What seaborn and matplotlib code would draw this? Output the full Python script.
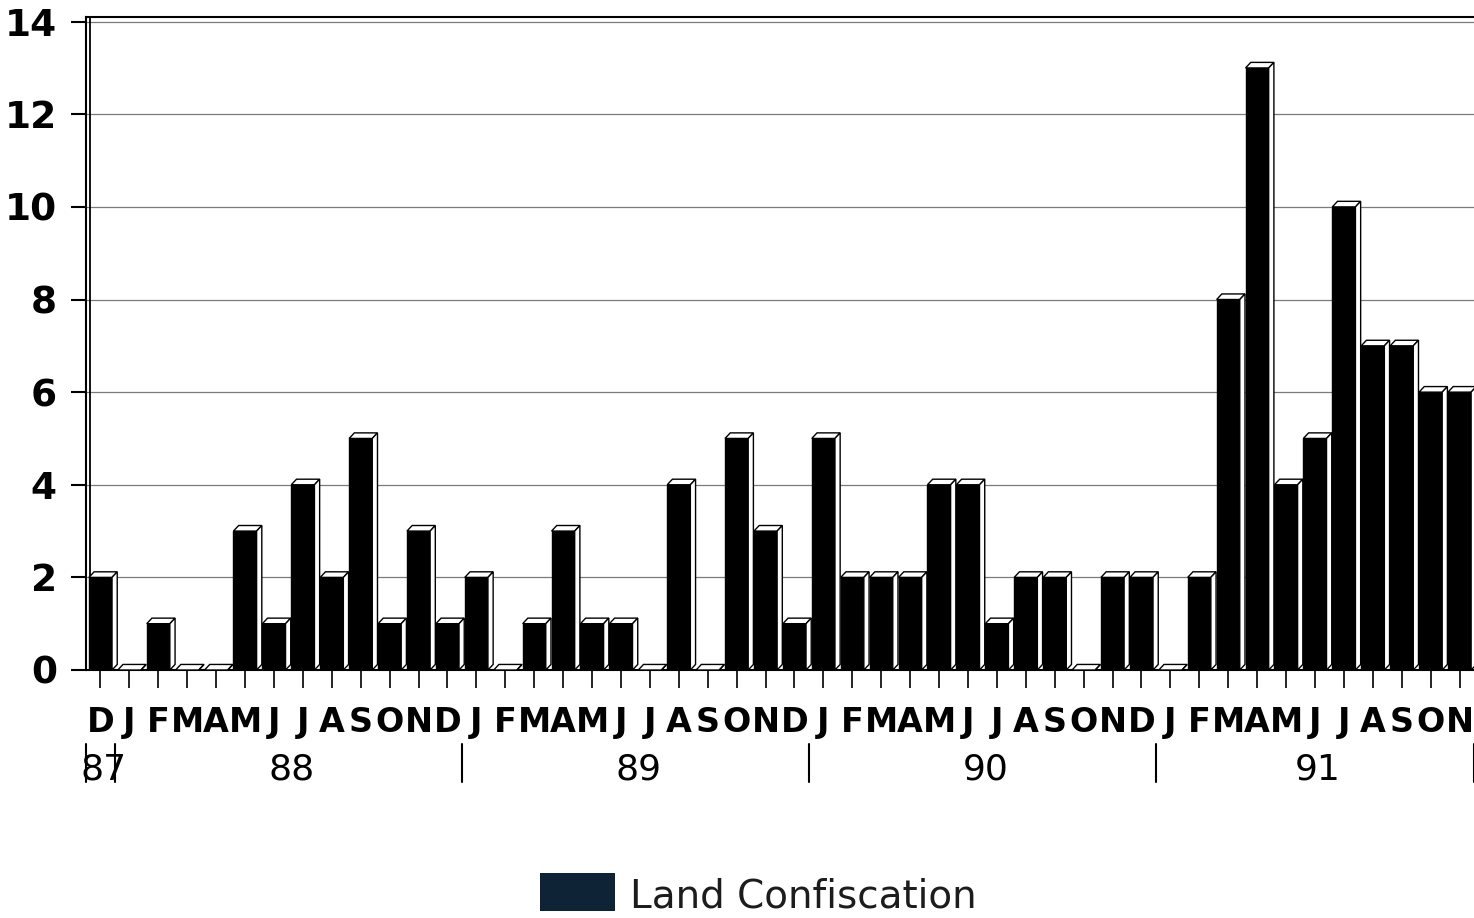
import numpy as np
import pandas as pd
import matplotlib.pyplot as plt
import seaborn as sns
from matplotlib.patches import Polygon, Rectangle
import matplotlib.transforms as mtransforms

sns.set_theme(style="white")
plt.rcParams["font.family"] = ["DejaVu Sans"]

# monthly counts, Dec 1987 - Nov 1991
months = (["D"]
          + ["J", "F", "M", "A", "M", "J", "J", "A", "S", "O", "N", "D"]
          + ["J", "F", "M", "A", "M", "J", "J", "A", "S", "O", "N", "D"]
          + ["J", "F", "M", "A", "M", "J", "J", "A", "S", "O", "N", "D"]
          + ["J", "F", "M", "A", "M", "J", "J", "A", "S", "O", "N"])
values = [2,
          0, 1, 0, 0, 3, 1, 4, 2, 5, 1, 3, 1,
          2, 0, 1, 3, 1, 1, 0, 4, 0, 5, 3, 1,
          5, 2, 2, 2, 4, 4, 1, 2, 2, 0, 2, 2,
          0, 2, 8, 13, 4, 5, 10, 7, 7, 6, 6]
years = ["87", "88", "89", "90", "91"]
year_months = [1, 12, 12, 12, 11]
series_name = "Land Confiscation"

df = pd.DataFrame({"idx": np.arange(len(values)), "count": values})

W, H = 1474, 918
fig = plt.figure(figsize=(W / 100, H / 100), dpi=100)
ax = fig.add_axes([86 / W, 1 - 670 / H, (W - 86) / W, (670 - 17) / H])

sns.barplot(data=df, x="idx", y="count", color="black", saturation=1,
            width=0.8, ax=ax, zorder=3, edgecolor="black", linewidth=1)

ymax = 14.1
ax.set_ylim(0, ymax)
ax.set_xlim(-0.5, len(values) - 0.5)

# 3D caps and sides
dx, dy = 0.18, 0.12
for p in ax.patches:
    x0 = p.get_x()
    w = p.get_width()
    h = p.get_height()
    top = Polygon([(x0, h), (x0 + w, h), (x0 + w + dx, h + dy), (x0 + dx, h + dy)],
                  closed=True, facecolor="white", edgecolor="black", lw=1, zorder=4)
    side = Polygon([(x0 + w, 0), (x0 + w, h), (x0 + w + dx, h + dy), (x0 + w + dx, dy)],
                   closed=True, facecolor="white", edgecolor="black", lw=1, zorder=4)
    ax.add_patch(top)
    ax.add_patch(side)

# axes styling
ax.set_xlabel("")
ax.set_ylabel("")
ax.set_yticks(np.arange(0, 15, 2))
ax.set_yticklabels([str(v) for v in range(0, 15, 2)], fontsize=27, fontweight="bold")
ax.set_xticks(np.arange(len(values)))
ax.set_xticklabels(months, fontsize=24, fontweight="bold")
ax.tick_params(axis="x", direction="out", length=13, width=1.2, pad=13,
               bottom=True, colors="black")
ax.tick_params(axis="y", direction="out", length=11, width=1.5, pad=10,
               left=True, colors="black")
ax.yaxis.grid(True, color="#7a7a7a", lw=0.9, zorder=0)
ax.set_axisbelow(True)
for s in ["left", "top", "bottom"]:
    ax.spines[s].set_visible(True)
    ax.spines[s].set_color("black")
    ax.spines[s].set_linewidth(1.5)
ax.spines["right"].set_visible(False)
# inner back-wall line
ax.plot([-0.5 + 0.14, -0.5 + 0.14], [dy, ymax], color="black", lw=1.3, zorder=2)

# year labels and separators
trans = mtransforms.blended_transform_factory(ax.transData, ax.transAxes)
start = -0.5
bounds = [start]
for yr, n in zip(years, year_months):
    ax.text(start + n / 2 + 0.1, -0.152, yr, transform=trans, ha="center", va="center",
            fontsize=26, color="black")
    start += n
    bounds.append(start)
for b in bounds:
    ax.plot([b, b], [-0.113, -0.171], transform=trans, color="black", lw=1.5,
            clip_on=False)

# legend
fig.patches.append(Rectangle((540 / W, 1 - 911 / H), 75 / W, 38 / H,
                             transform=fig.transFigure, facecolor="#0e2436",
                             edgecolor="none"))
fig.text(630 / W, 1 - 896 / H, series_name, fontsize=28, color="#1c1c1c",
         va="center", ha="left")

fig.savefig("out.png", dpi=100)
